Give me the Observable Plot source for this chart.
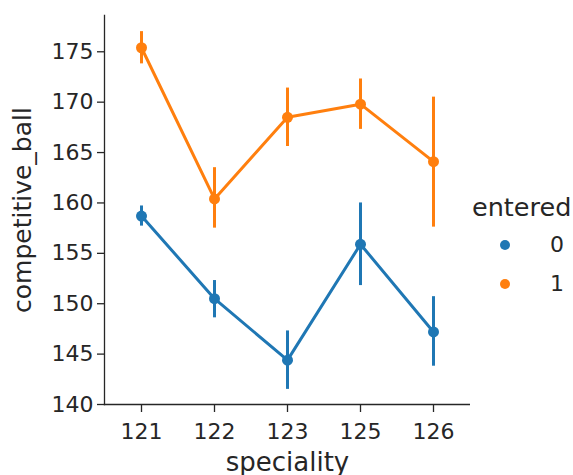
<!DOCTYPE html>
<html>
<head>
<meta charset="utf-8">
<script src="https://cdn.jsdelivr.net/npm/d3@7"></script>
<script src="https://cdn.jsdelivr.net/npm/@observablehq/plot@0.6"></script>
<style>
  html, body { margin: 0; padding: 0; background: #fff; }
  body { width: 573px; height: 475px; position: relative; overflow: hidden; font-family: "DejaVu Sans", sans-serif; }
  #chart { position: absolute; left: 0; top: 0; }
  #legend { position: absolute; left: 472px; top: 192px; color: #262626; }
  #legend .title { font-size: 25.5px; line-height: 30px; height: 30px; }
  #legend .rows { padding-top: 3px; }
  #legend .row { display: flex; align-items: center; height: 39px; font-size: 22px; }
  #legend .sw { width: 10px; height: 10px; border-radius: 50%; margin-left: 28px; margin-right: 40px; }
</style>
</head>
<body>
<div id="chart"></div>
<div id="legend"></div>
<script>
const specialities = ["121", "122", "123", "125", "126"];
const enteredGroups = ["0", "1"];
const colors = ["#1f77b4", "#ff7f0e"];
// means and 95% CI per group (entered = 0, entered = 1)
const mean0 = [158.7, 150.5, 144.4, 155.9, 147.2];
const low0  = [157.7, 148.6, 141.5, 151.8, 143.8];
const high0 = [159.7, 152.3, 147.3, 160.0, 150.7];
const mean1 = [175.4, 160.4, 168.5, 169.8, 164.1];
const low1  = [173.8, 157.5, 165.6, 167.3, 157.6];
const high1 = [177.0, 163.5, 171.4, 172.3, 170.5];
const yTicks = [140, 145, 150, 155, 160, 165, 170, 175];

const rows = [];
specialities.forEach((s, i) => {
  rows.push({speciality: s, entered: "0", mean: mean0[i], low: low0[i], high: high0[i]});
  rows.push({speciality: s, entered: "1", mean: mean1[i], low: low1[i], high: high1[i]});
});

const ink = "#262626";
const chart = Plot.plot({
  width: 470,
  height: 475,
  marginLeft: 104,
  marginRight: 0,
  marginTop: 15,
  marginBottom: 71,
  style: {fontFamily: "DejaVu Sans, sans-serif", color: ink, background: "white"},
  x: {type: "point", domain: specialities, padding: 0.5},
  y: {domain: [140, 178.6]},
  color: {domain: enteredGroups, range: colors},
  marks: [
    Plot.frame({anchor: "left", stroke: ink, strokeWidth: 1.3}),
    Plot.frame({anchor: "bottom", stroke: ink, strokeWidth: 1.3}),
    Plot.axisY({ticks: yTicks, tickSize: 7, tickPadding: 4, fontSize: 22, stroke: ink, strokeWidth: 1.3}),
    Plot.axisY({ticks: [], label: "competitive_ball", labelAnchor: "center", labelArrow: "none",
      labelOffset: 91, fontSize: 25}),
    Plot.axisX({tickSize: 8, tickPadding: 11, fontSize: 22, stroke: ink, strokeWidth: 1.3, label: null}),
    Plot.axisX({ticks: [], label: "speciality", labelAnchor: "center", labelArrow: "none",
      labelOffset: 66, fontSize: 26}),
    Plot.ruleX(rows, {x: "speciality", y1: "low", y2: "high", stroke: "entered", strokeWidth: 3}),
    Plot.line(rows, {x: "speciality", y: "mean", z: "entered", stroke: "entered", strokeWidth: 3}),
    Plot.dot(rows, {x: "speciality", y: "mean", fill: "entered", r: 5.5})
  ]
});
document.getElementById("chart").appendChild(chart);

const legend = document.getElementById("legend");
legend.innerHTML = `<div class="title">entered</div><div class="rows">` +
  enteredGroups.map((g, i) => `<div class="row"><span class="sw" style="background:${colors[i]}"></span><span>${g}</span></div>`).join("") +
  `</div>`;
</script>
</body>
</html>
